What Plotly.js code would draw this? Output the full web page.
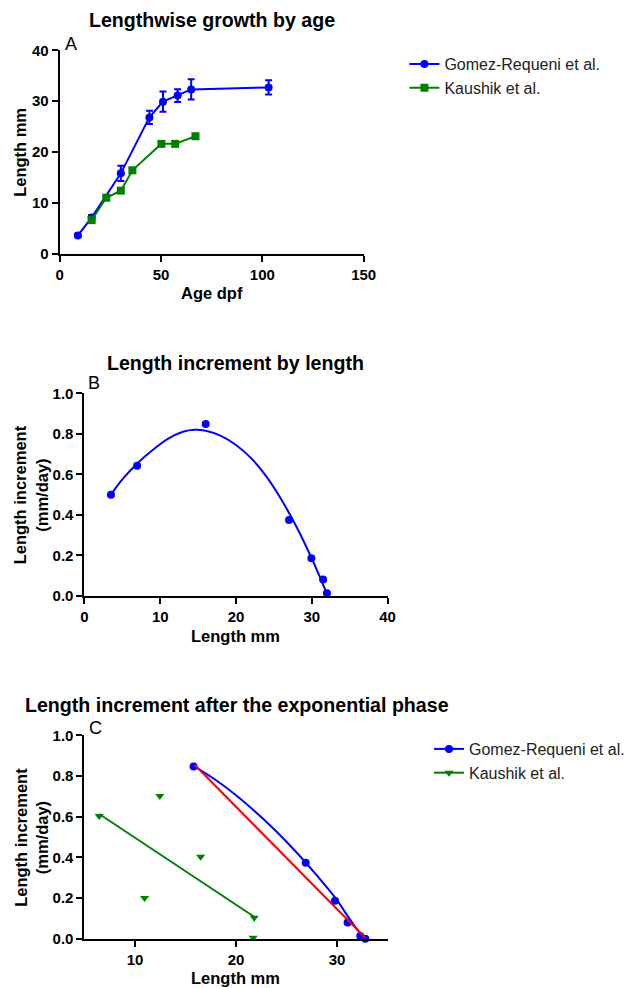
<!DOCTYPE html>
<html>
<head>
<meta charset="utf-8">
<script src="https://cdn.plot.ly/plotly-3.0.1.min.js"></script>
<style>html,body{margin:0;padding:0;background:#fff;}#chart{width:630px;height:988px;}</style>
</head>
<body>
<div id="chart"></div>
<script>
// Panel A: length by age
const ageGomez = [9, 15.8, 30.2, 44.3, 51, 58.2, 64.9, 103.1];
const lenGomez = [3.6, 7.1, 15.8, 26.8, 29.9, 31.1, 32.3, 32.7];
const errGomez = [0.3, 0.5, 1.5, 1.3, 2.0, 1.25, 2.0, 1.4];
const ageKaushik = [15.8, 23, 30.2, 35.9, 50.2, 57, 67];
const lenKaushik = [6.6, 11.0, 12.4, 16.4, 21.6, 21.6, 23.1];

// Panel B: length increment by length (Gomez-Requeni)
const lenB = [3.5, 6.95, 16.0, 27.0, 29.95, 31.5, 32.0];
const incB = [0.50, 0.643, 0.849, 0.375, 0.186, 0.082, 0.013];
const fitLenB = [3.5, 5, 7, 9, 11, 13, 14.5, 16, 18, 20, 22, 24, 26, 28, 30, 31, 32];
const fitIncB = [0.50, 0.575, 0.655, 0.72, 0.775, 0.81, 0.82, 0.815, 0.79, 0.745, 0.68, 0.59, 0.475, 0.34, 0.185, 0.10, 0.01];

// Panel C: after the exponential phase
const lenCGomez = [15.8, 26.9, 29.8, 31.05, 32.3, 32.8];
const incCGomez = [0.846, 0.374, 0.187, 0.080, 0.013, 0.0];
const fitLenCGomez = [15.8, 18, 20, 22, 24, 26, 28, 30, 31, 32, 32.8];
const fitIncCGomez = [0.85, 0.78, 0.705, 0.62, 0.527, 0.424, 0.311, 0.19, 0.115, 0.045, 0.0];
const linLenCGomez = [15.9, 32.8];
const linIncCGomez = [0.855, 0.005];
const lenCKaushik = [6.46, 10.95, 12.46, 16.5, 21.7, 21.8];
const incCKaushik = [0.603, 0.2, 0.702, 0.403, 0.005, 0.103];
const linLenCKaushik = [6.46, 21.8];
const linIncCKaushik = [0.613, 0.108];

const names = ['Gomez-Requeni et al.', 'Kaushik et al.'];
const titles = ['Lengthwise growth by age', 'Length increment by length', 'Length increment after the exponential phase'];

const BLUE = '#0000ff', GREEN = '#008000', RED = '#ff0000';
const FONT = 'Liberation Sans, Arial, sans-serif';
const W = 630, H = 988;
const px = v => v / W, py = v => 1 - v / H;

const traces = [
  {x: ageGomez, y: lenGomez, xaxis: 'x', yaxis: 'y', mode: 'lines+markers', name: names[0],
   line: {color: BLUE, width: 2}, marker: {color: BLUE, size: 8, symbol: 'circle'},
   error_y: {type: 'data', array: errGomez, visible: true, color: BLUE, thickness: 2, width: 3.5},
   cliponaxis: false, legend: 'legend'},
  {x: ageKaushik, y: lenKaushik, xaxis: 'x', yaxis: 'y', mode: 'lines+markers', name: names[1],
   line: {color: GREEN, width: 2}, marker: {color: GREEN, size: 8, symbol: 'square'},
   cliponaxis: false, legend: 'legend'},

  {x: fitLenB, y: fitIncB, xaxis: 'x2', yaxis: 'y2', mode: 'lines', line: {color: BLUE, width: 2, shape: 'spline'},
   showlegend: false, cliponaxis: false},
  {x: lenB, y: incB, xaxis: 'x2', yaxis: 'y2', mode: 'markers', marker: {color: BLUE, size: 8},
   showlegend: false, cliponaxis: false},

  {x: fitLenCGomez, y: fitIncCGomez, xaxis: 'x3', yaxis: 'y3', mode: 'lines', line: {color: BLUE, width: 2, shape: 'spline'},
   showlegend: false, cliponaxis: false},
  {x: lenCGomez, y: incCGomez, xaxis: 'x3', yaxis: 'y3', mode: 'markers', marker: {color: BLUE, size: 8},
   showlegend: false, cliponaxis: false},
  {x: linLenCGomez, y: linIncCGomez, xaxis: 'x3', yaxis: 'y3', mode: 'lines', line: {color: RED, width: 2},
   showlegend: false, cliponaxis: false},
  {x: linLenCKaushik, y: linIncCKaushik, xaxis: 'x3', yaxis: 'y3', mode: 'lines', line: {color: GREEN, width: 2},
   showlegend: false, cliponaxis: false},
  {x: lenCKaushik, y: incCKaushik, xaxis: 'x3', yaxis: 'y3', mode: 'markers', marker: {color: GREEN, size: 8, symbol: 'triangle-down'},
   showlegend: false, cliponaxis: false},
  // legend entries for panel C
  {x: [null], y: [null], xaxis: 'x3', yaxis: 'y3', mode: 'lines+markers', name: names[0],
   line: {color: BLUE, width: 2}, marker: {color: BLUE, size: 8, symbol: 'circle'}, legend: 'legend2'},
  {x: [null], y: [null], xaxis: 'x3', yaxis: 'y3', mode: 'lines+markers', name: names[1],
   line: {color: GREEN, width: 2}, marker: {color: GREEN, size: 8, symbol: 'triangle-down'}, legend: 'legend2'}
];

const tickfont = {family: FONT, size: 15, color: '#000', weight: 'bold'};
function ax(extra) {
  return Object.assign({
    showline: true, linewidth: 2, linecolor: '#000', ticks: 'outside', ticklen: 6, tickwidth: 2,
    tickcolor: '#000', showgrid: false, zeroline: false, tickfont: tickfont, fixedrange: true
  }, extra);
}

function ann(text, x, y, size, bold, angle) {
  return {text: text, xref: 'paper', yref: 'paper', x: px(x), y: py(y), xanchor: 'center', yanchor: 'middle',
    showarrow: false, textangle: angle || 0,
    font: {family: FONT, size: size, color: '#000', weight: bold ? 'bold' : 'normal'}};
}

const layout = {
  width: W, height: H, margin: {l: 0, r: 0, t: 0, b: 0},
  paper_bgcolor: '#fff', plot_bgcolor: '#fff', font: {family: FONT},
  xaxis: ax({domain: [px(60), px(366)], range: [0, 150], tickvals: [0, 50, 100, 150], anchor: 'y'}),
  yaxis: ax({domain: [py(253.7), py(50.3)], range: [0, 40], tickvals: [0, 10, 20, 30, 40], anchor: 'x'}),
  xaxis2: ax({domain: [px(85), px(390)], range: [0, 40], tickvals: [0, 10, 20, 30, 40], anchor: 'y2'}),
  yaxis2: ax({domain: [py(596), py(393.3)], range: [0, 1], tickvals: [0, 0.2, 0.4, 0.6, 0.8, 1.0], tickformat: '.1f', anchor: 'x2'}),
  xaxis3: ax({domain: [px(85), px(390)], range: [5, 35], tickvals: [10, 20, 30], anchor: 'y3'}),
  yaxis3: ax({domain: [py(938.7), py(735.3)], range: [0, 1], tickvals: [0, 0.2, 0.4, 0.6, 0.8, 1.0], tickformat: '.1f', anchor: 'x3'}),
  legend: {x: px(407), y: py(47), xanchor: 'left', yanchor: 'top', bgcolor: 'rgba(0,0,0,0)',
    font: {family: FONT, size: 16, color: '#222'}, tracegroupgap: 0},
  legend2: {x: px(432), y: py(732), xanchor: 'left', yanchor: 'top', bgcolor: 'rgba(0,0,0,0)',
    font: {family: FONT, size: 16, color: '#222'}, tracegroupgap: 0},
  annotations: [
    ann(titles[0], 213, 20, 19.6, true),
    ann(titles[1], 237.5, 362.7, 19.6, true),
    ann(titles[2], 239, 705, 19.6, true),
    ann('A', 71, 44, 18, false),
    ann('B', 95, 383, 18, false),
    ann('C', 96, 728, 18, false),
    ann('Age dpf', 213, 293, 16.5, true),
    ann('Length mm', 237.5, 636, 16.5, true),
    ann('Length mm', 237.5, 978, 16.5, true),
    ann('Length mm', 20, 152, 16.5, true, -90),
    ann('Length increment<br>(mm/day)', 31, 494.5, 16.5, true, -90),
    ann('Length increment<br>(mm/day)', 31, 837, 16.5, true, -90)
  ]
};

Plotly.newPlot('chart', traces, layout, {displayModeBar: false, staticPlot: true});
</script>
</body>
</html>
